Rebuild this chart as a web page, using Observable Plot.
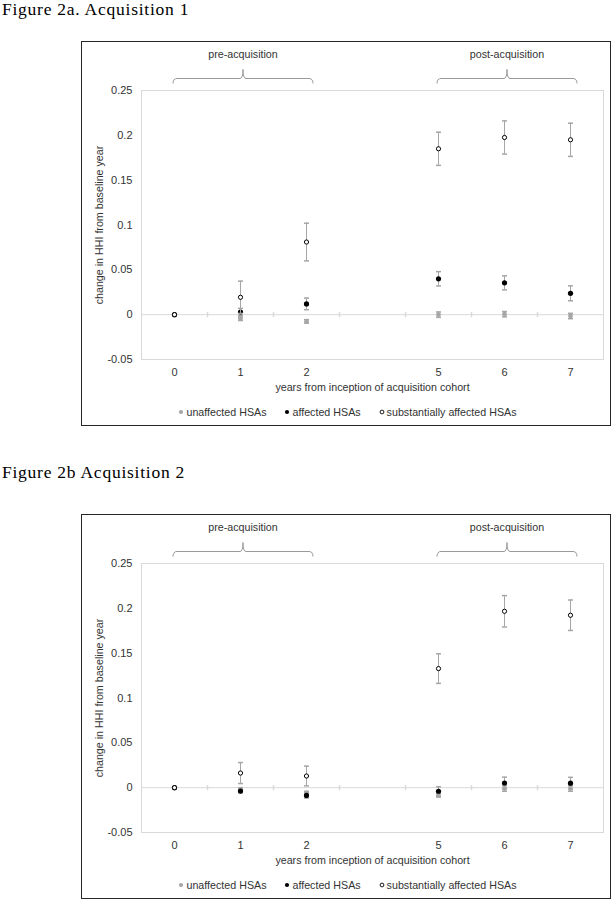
<!DOCTYPE html>
<html>
<head>
<meta charset="utf-8">
<script src="https://cdn.jsdelivr.net/npm/d3@7"></script>
<script src="https://cdn.jsdelivr.net/npm/@observablehq/plot@0.6"></script>
<style>
html, body { margin: 0; padding: 0; background: #fff; }
#page { position: relative; width: 613px; height: 900px; overflow: hidden; font-family: "Liberation Sans", Arial, sans-serif; }
.title { position: absolute; left: 2px; font-family: "Liberation Serif", "Times New Roman", serif; font-size: 17.5px; line-height: 17px; letter-spacing: 0.75px; color: #000; white-space: nowrap; }
.box { position: absolute; left: 81px; width: 530px; height: 385px; box-sizing: border-box; border: 1px solid #262626; background: #fff; }
.box > svg { position: absolute; left: 0; top: 0; }
.legend { position: absolute; left: 0; right: 0; top: 364px; height: 12px; display: flex; justify-content: center; gap: 18px; font-size: 10.7px; line-height: 12px; color: #333; white-space: nowrap; padding-left: 3px; }
.legend .item { display: flex; align-items: center; }
.legend .item svg { margin-right: 2px; }
</style>
</head>
<body>
<div id="page"></div>
<script>
// ---------- data ----------
const xCategories = ["0", "1", "2", "", "5", "6", "7"];
const years = [0, 1, 2, 5, 6, 7];
const yTicks = [-0.05, 0, 0.05, 0.1, 0.15, 0.2, 0.25];
const yTickLabels = ["-0.05", "0", "0.05", "0.1", "0.15", "0.2", "0.25"];
const seriesNames = ["unaffected HSAs", "affected HSAs", "substantially affected HSAs"];
const yAxisTitle = "change in HHI from baseline year";
const xAxisTitle = "years from inception of acquisition cohort";
const bracketLabels = ["pre-acquisition", "post-acquisition"];
const bracketFrom = ["0", "5"];
const bracketTo = ["2", "7"];
const figureTitles = ["Figure 2a. Acquisition 1", "Figure 2b Acquisition 2"];

// Figure 2a – Acquisition 1
const acq1Unaffected = [0, -0.0045, -0.0075, 0.0, 0.0005, -0.0015];
const acq1UnaffectedErr = [0, 0.002, 0.002, 0.003, 0.003, 0.003];
const acq1Affected = [0, 0.003, 0.012, 0.040, 0.0355, 0.0238];
const acq1AffectedErr = [0, 0.004, 0.0065, 0.008, 0.0078, 0.0083];
const acq1Substantial = [0, 0.0194, 0.081, 0.185, 0.1976, 0.195];
const acq1SubstantialErr = [0, 0.018, 0.021, 0.0185, 0.0185, 0.0185];

// Figure 2b – Acquisition 2
const acq2Unaffected = [0, -0.002, -0.006, -0.0086, -0.001, -0.001];
const acq2UnaffectedErr = [0, 0.002, 0.002, 0.002, 0.003, 0.003];
const acq2Affected = [0, -0.0038, -0.0086, -0.004, 0.0052, 0.005];
const acq2AffectedErr = [0, 0.002, 0.003, 0.005, 0.0065, 0.0065];
const acq2Substantial = [0, 0.0163, 0.013, 0.1328, 0.1967, 0.1923];
const acq2SubstantialErr = [0, 0.0117, 0.011, 0.0165, 0.0175, 0.017];

// ---------- styles ----------
const seriesStyles = [
  { fill: "#a6a6a6", stroke: "none", r: 2.4 },
  { fill: "#000000", stroke: "none", r: 2.6 },
  { fill: "#ffffff", stroke: "#000000", r: 2.1 }
];
const errColor = "#a6a6a6";
const gridColor = "#d9d9d9";
const textColor = "#333333";

const pos = c => xCategories.indexOf(String(c));

const hLine = { draw(ctx, size) { const w = Math.sqrt(size / Math.PI); ctx.moveTo(-w, 0); ctx.lineTo(w, 0); } };
const vLine = { draw(ctx, size) { const w = Math.sqrt(size / Math.PI); ctx.moveTo(0, -w); ctx.lineTo(0, w); } };

function rows(vals, errs) {
  return years.map((yr, i) => ({ x: pos(yr), y: vals[i], lo: vals[i] - errs[i], hi: vals[i] + errs[i] }));
}

function bracketMark(index, scales, values, dims) {
  const g = d3.create("svg:g");
  const top = dims.marginTop;
  bracketLabels.forEach((label, i) => {
    const x0 = scales.x(pos(bracketFrom[i])) - 1;
    const x1 = scales.x(pos(bracketTo[i])) + 7;
    const xm = (x0 + x1) / 2;
    const yE = top - 6.5, yH = top - 11.5, yT = top - 20.5;
    g.append("path")
      .attr("d", `M${x0},${yE}Q${x0},${yH} ${x0 + 4},${yH}L${xm - 3},${yH}Q${xm},${yH} ${xm},${yT}Q${xm},${yH} ${xm + 3},${yH}L${x1 - 4},${yH}Q${x1},${yH} ${x1},${yE}`)
      .attr("fill", "none").attr("stroke", "#9a9a9a").attr("stroke-width", 1);
    g.append("text")
      .attr("x", xm).attr("y", top - 35.5)
      .attr("text-anchor", "middle").attr("dy", "0.32em")
      .attr("font-size", 10.7).attr("fill", textColor)
      .text(label);
  });
  return g.node();
}

function seriesMarks(data, st) {
  const withErr = { filter: d => d.hi > d.lo };
  return [
    Plot.ruleX(data, { x: "x", y1: "lo", y2: "hi", stroke: errColor, ...withErr }),
    Plot.dot(data, { x: "x", y: "lo", symbol: hLine, r: 2.5, fill: "none", stroke: errColor, ...withErr }),
    Plot.dot(data, { x: "x", y: "hi", symbol: hLine, r: 2.5, fill: "none", stroke: errColor, ...withErr }),
    Plot.dot(data, { x: "x", y: "y", r: st.r, fill: st.fill, stroke: st.stroke, strokeWidth: 1 })
  ];
}

function drawFigure(top, titleTop, title, series) {
  const page = document.getElementById("page");
  const t = document.createElement("div");
  t.className = "title";
  t.style.top = titleTop + "px";
  t.textContent = title;
  page.appendChild(t);

  const box = document.createElement("div");
  box.className = "box";
  box.style.top = top + "px";
  page.appendChild(box);

  const boundaries = d3.range(xCategories.length - 1).map(i => i + 0.5);

  const chart = Plot.plot({
    width: 528,
    height: 383,
    marginLeft: 59,
    marginRight: 7,
    marginTop: 48,
    marginBottom: 66,
    x: { type: "linear", domain: [-0.5, xCategories.length - 0.5] },
    y: { type: "linear", domain: [yTicks[0], yTicks[yTicks.length - 1]] },
    style: { fontFamily: "'Liberation Sans', Arial, sans-serif", fontSize: "10.7px", color: textColor, background: "transparent", overflow: "visible" },
    marks: [
      Plot.frame({ stroke: gridColor }),
      Plot.ruleY([0], { stroke: gridColor }),
      Plot.dot(boundaries, { x: d => d, y: 0, symbol: vLine, r: 2.5, fill: "none", stroke: gridColor }),
      Plot.axisY(yTicks, { tickSize: 0, tickPadding: 9, tickFormat: d => yTickLabels[yTicks.indexOf(d)], fontSize: 11, fill: textColor, label: null }),
      Plot.axisX(years.map(pos), { tickSize: 0, tickPadding: 9, tickFormat: d => xCategories[d], fontSize: 11, fill: textColor, label: null }),
      Plot.text([yAxisTitle], { text: d => d, frameAnchor: "left", rotate: -90, dx: -42, textAnchor: "middle", lineAnchor: "middle", fontSize: 10.7, fill: textColor }),
      Plot.text([xAxisTitle], { text: d => d, frameAnchor: "bottom", dy: 28.3, textAnchor: "middle", lineAnchor: "middle", fontSize: 10.7, fill: textColor }),
      bracketMark,
      ...series.flatMap((s, i) => seriesMarks(s, seriesStyles[i]))
    ]
  });
  box.appendChild(chart);

  const legend = document.createElement("div");
  legend.className = "legend";
  seriesNames.forEach((name, i) => {
    const st = seriesStyles[i];
    const item = document.createElement("span");
    item.className = "item";
    item.innerHTML = `<svg width="6" height="6" viewBox="-3 -3 6 6"><circle r="${i === 2 ? 1.9 : 2.1}" fill="${st.fill}" stroke="${st.stroke}" stroke-width="0.9"></circle></svg>`;
    const label = document.createElement("span");
    label.textContent = name;
    item.appendChild(label);
    legend.appendChild(item);
  });
  box.appendChild(legend);
}

drawFigure(41, 1, figureTitles[0], [
  rows(acq1Unaffected, acq1UnaffectedErr),
  rows(acq1Affected, acq1AffectedErr),
  rows(acq1Substantial, acq1SubstantialErr)
]);
drawFigure(514, 463.5, figureTitles[1], [
  rows(acq2Unaffected, acq2UnaffectedErr),
  rows(acq2Affected, acq2AffectedErr),
  rows(acq2Substantial, acq2SubstantialErr)
]);
</script>
</body>
</html>
